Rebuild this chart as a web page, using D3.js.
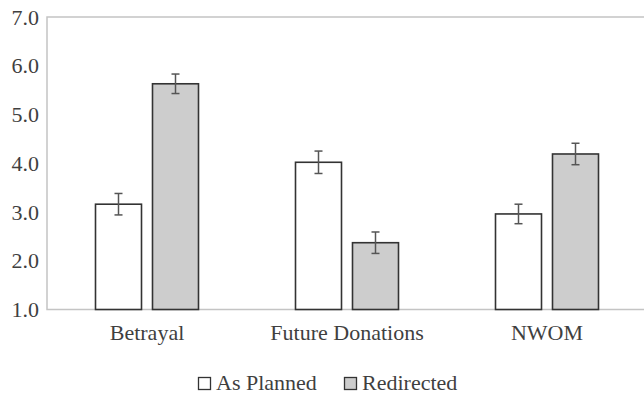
<!DOCTYPE html>
<html>
<head>
<meta charset="UTF-8">
<style>
body { margin: 0; background: #fff; }
svg text { font-family: "Times New Roman", "Liberation Serif", serif !important; }
</style>
</head>
<body>
<script src="https://d3js.org/d3.v7.min.js"></script>
<script>
// values
const categories = ["Betrayal", "Future Donations", "NWOM"];
const seriesNames = ["As Planned", "Redirected"];
const asPlanned = [3.16, 4.02, 2.96];
const redirected = [5.63, 2.37, 4.19];
const asPlannedErr = [0.22, 0.23, 0.2];
const redirectedErr = [0.2, 0.22, 0.22];
const yTicks = [1, 2, 3, 4, 5, 6, 7];

const fills = ["#ffffff", "#cdcdcd"];
const serifFont = "Times New Roman";
const fontSize = 22;
const textColor = "#3f3f3f";

const width = 644;
const height = 397;
const margin = { top: 17, right: -3, bottom: 87.5, left: 47 };

const svg = d3.select("body").append("svg")
  .attr("width", width)
  .attr("height", height)
  .style("font-family", "'Times New Roman', serif");

const x0 = d3.scaleBand()
  .domain(categories)
  .range([margin.left, width - margin.right])
  .paddingInner(0.485)
  .paddingOuter(0.2425);

const x1 = d3.scaleBand()
  .domain(seriesNames)
  .range([0, x0.bandwidth()])
  .paddingInner(0.193);

const y = d3.scaleLinear()
  .domain([1, 7])
  .range([height - margin.bottom, margin.top]);

// frame: left, top and bottom lines
svg.append("path")
  .attr("d", `M${width},${y(7)}H${margin.left}V${y(1)}H${width}`)
  .attr("fill", "none")
  .attr("stroke", "#c4c4c4")
  .attr("stroke-width", 1.5);

// y axis labels
const yAxis = d3.axisLeft(y)
  .tickValues(yTicks)
  .tickFormat(d3.format(".1f"))
  .tickSize(0)
  .tickPadding(8);

const gy = svg.append("g")
  .attr("transform", `translate(${margin.left},0)`)
  .call(yAxis);
gy.select(".domain").remove();
gy.attr("font-family", serifFont).attr("font-size", fontSize);
gy.selectAll("text")
  .attr("font-family", serifFont)
  .attr("font-size", fontSize)
  .attr("fill", textColor);

// x axis labels
const xAxis = d3.axisBottom(x0).tickSize(0).tickPadding(15);
const gx = svg.append("g")
  .attr("transform", `translate(0,${y(1)})`)
  .call(xAxis);
gx.select(".domain").remove();
gx.attr("font-family", serifFont).attr("font-size", fontSize);
gx.selectAll("text")
  .attr("font-family", serifFont)
  .attr("font-size", fontSize)
  .attr("fill", textColor);

const rows = categories.map((c, i) => ({
  category: c,
  bars: [
    { name: seriesNames[0], value: asPlanned[i], err: asPlannedErr[i], k: 0 },
    { name: seriesNames[1], value: redirected[i], err: redirectedErr[i], k: 1 },
  ],
}));

const group = svg.append("g")
  .selectAll("g")
  .data(rows)
  .join("g")
  .attr("transform", (d) => `translate(${x0(d.category)},0)`);

group.selectAll("rect")
  .data((d) => d.bars)
  .join("rect")
  .attr("x", (d) => x1(d.name))
  .attr("width", x1.bandwidth())
  .attr("y", (d) => y(d.value))
  .attr("height", (d) => y(1) - y(d.value))
  .attr("fill", (d) => fills[d.k])
  .attr("stroke", "#333")
  .attr("stroke-width", 1.6);

// error bars
const capHalf = 4;
const err = group.selectAll("g.err")
  .data((d) => d.bars)
  .join("g")
  .attr("class", "err")
  .attr("stroke", "#555")
  .attr("stroke-width", 1.5);

err.append("line")
  .attr("x1", (d) => x1(d.name) + x1.bandwidth() / 2)
  .attr("x2", (d) => x1(d.name) + x1.bandwidth() / 2)
  .attr("y1", (d) => y(d.value + d.err))
  .attr("y2", (d) => y(d.value - d.err));

err.selectAll("line.cap")
  .data((d) => [
    { cx: x1(d.name) + x1.bandwidth() / 2, v: d.value + d.err },
    { cx: x1(d.name) + x1.bandwidth() / 2, v: d.value - d.err },
  ])
  .join("line")
  .attr("class", "cap")
  .attr("x1", (d) => d.cx - capHalf)
  .attr("x2", (d) => d.cx + capHalf)
  .attr("y1", (d) => y(d.v))
  .attr("y2", (d) => y(d.v));

// legend
const legendX = [198, 344];
svg.selectAll("rect.key")
  .data(seriesNames)
  .join("rect")
  .attr("class", "key")
  .attr("x", (d, i) => legendX[i] + 0.5)
  .attr("y", 377.5)
  .attr("width", 12)
  .attr("height", 12)
  .attr("fill", (d, i) => fills[i])
  .attr("stroke", "#333")
  .attr("stroke-width", 1.3);

svg.selectAll("text.key")
  .data(seriesNames)
  .join("text")
  .attr("class", "key")
  .attr("x", (d, i) => legendX[i] + 18)
  .attr("y", 389.5)
  .attr("font-size", fontSize)
  .attr("font-family", serifFont)
  .attr("fill", textColor)
  .text((d) => d);
</script>
</body>
</html>
